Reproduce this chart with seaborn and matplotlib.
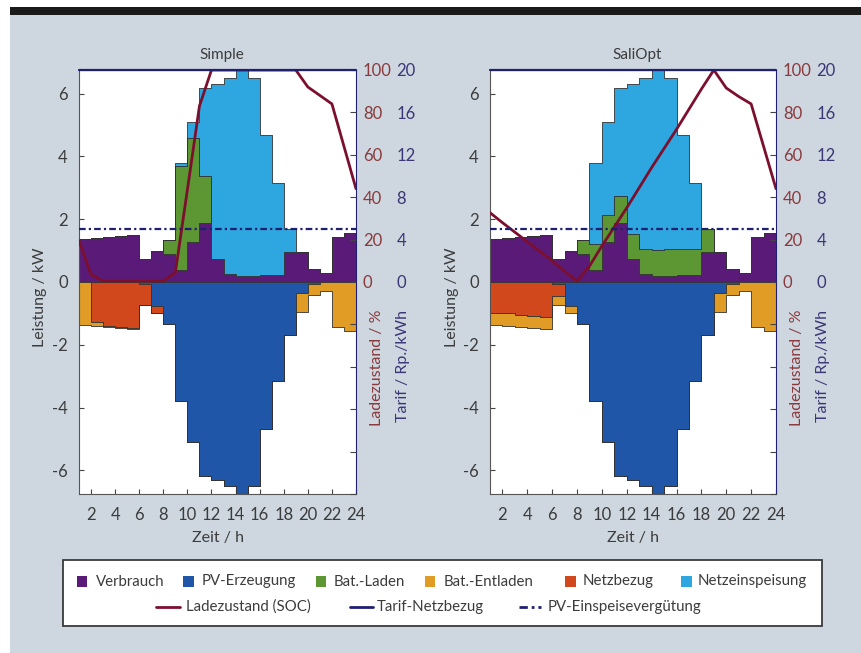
import numpy as np
import matplotlib
matplotlib.use("Agg")
import matplotlib.pyplot as plt
import seaborn as sns
from matplotlib.patches import Rectangle
from matplotlib.lines import Line2D

# ---------------- data (kW per hour, bars from h to h+1) ----------------
hours = list(range(1, 25))          # hour marks 1..24
xticks = list(range(2, 25, 2))

verbrauch = [1.36, 1.40, 1.44, 1.46, 1.50, 0.73, 1.00, 0.90, 0.38, 1.27, 1.89, 0.74,
             0.24, 0.19, 0.19, 0.22, 0.22, 0.96, 0.96, 0.42, 0.30, 1.42, 1.57]
pv_erzeugung = [0.00, 0.00, 0.00, 0.00, 0.00, 0.07, 0.76, 1.34, 3.80, 5.09, 6.17, 6.32,
                6.48, 6.90, 6.50, 4.67, 3.15, 1.68, 0.36, 0.05, 0.00, 0.00, 0.00]

simple_laden = [0, 0, 0, 0, 0, 0, 0, 0.44, 3.31, 3.32, 1.50, 0,
                0, 0, 0, 0, 0, 0, 0, 0, 0, 0, 0]
simple_einspeisung = [0, 0, 0, 0, 0, 0, 0, 0, 0.11, 0.50, 2.78, 5.58,
                      6.24, 6.71, 6.31, 4.45, 2.93, 0.72, 0, 0, 0, 0, 0]
simple_netzbezug = [0, 1.27, 1.41, 1.43, 1.47, 0.66, 0.24, 0, 0, 0, 0, 0,
                    0, 0, 0, 0, 0, 0, 0, 0, 0, 0, 0]
simple_entladen = [1.36, 0.13, 0.03, 0.03, 0.03, 0, 0, 0, 0, 0, 0, 0,
                   0, 0, 0, 0, 0, 0, 0.60, 0.37, 0.30, 1.42, 1.57]
simple_soc = [19.5, 3.5, 0.5, 0.5, 0.5, 0.5, 0.5, 0.5, 4.5, 43.5, 83, 100,
              100, 100, 100, 100, 100, 100, 100, 92, 88, 84, 64, 44]

saliopt_laden = [0, 0, 0, 0, 0, 0, 0, 0.44, 0.82, 0.85, 0.85, 0.80,
                 0.82, 0.82, 0.87, 0.82, 0.82, 0.72, 0, 0, 0, 0, 0]
saliopt_einspeisung = [0, 0, 0, 0, 0, 0, 0, 0, 2.60, 2.97, 3.43, 4.78,
                       5.42, 5.89, 5.44, 3.63, 2.11, 0, 0, 0, 0, 0, 0]
saliopt_netzbezug = [0.98, 1.00, 1.05, 1.08, 1.11, 0.36, 0, 0, 0, 0, 0, 0,
                     0, 0, 0, 0, 0, 0, 0, 0, 0, 0, 0]
saliopt_entladen = [0.38, 0.40, 0.39, 0.38, 0.39, 0.30, 0.24, 0, 0, 0, 0, 0,
                    0, 0, 0, 0, 0, 0, 0.60, 0.37, 0.30, 1.42, 1.57]
saliopt_soc = [32.7, 28, 23.5, 19, 14.5, 10, 5, 0.5, 7.5, 17, 26, 35,
               44.5, 54, 63, 72, 81.5, 91, 100, 91.5, 87.5, 84, 64, 44]

tarif_netzbezug = 20.0      # Rp/kWh
pv_verguetung = 5.0         # Rp/kWh

titles = ["Simple", "SaliOpt"]
legend_patches = ["Verbrauch", "PV-Erzeugung", "Bat.-Laden", "Bat.-Entladen", "Netzbezug", "Netzeinspeisung"]
legend_lines = ["Ladezustand (SOC)", "Tarif-Netzbezug", "PV-Einspeisevergütung"]

# ---------------- style ----------------
C_V = "#5a1b78"
C_PV = "#1f56a8"
C_LAD = "#5c9733"
C_ENT = "#e09c24"
C_BEZ = "#d1481d"
C_EIN = "#2ea6df"
C_SOC = "#7c0f2e"
C_T = "#1f2070"
C_SOC_LAB = "#8a3a3c"
C_T_LAB = "#3b3776"
EDGE = "#333333"
TXT = "#3c3c3c"
BG = "#ced7e0"

sns.set_theme(style="white")
plt.rcParams['font.family'] = ['Lato', 'DejaVu Sans']
plt.rcParams['axes.unicode_minus'] = False

W, H = 861, 653
fig = plt.figure(figsize=(W / 100, H / 100), dpi=100)
fig.patch.set_facecolor("white")


def fx(x):
    return x / W


def fy(y):
    return 1 - y / H


# paper background and top band
fig.add_artist(Rectangle((fx(10), 0), 1 - fx(10), fy(15), transform=fig.transFigure,
                         facecolor=BG, edgecolor="none", zorder=-10))
fig.add_artist(Rectangle((fx(10), fy(15)), 1 - fx(10), fy(7) - fy(15), transform=fig.transFigure,
                         facecolor="#1a1a1a", edgecolor="none", zorder=-9))

edges = np.array(hours, dtype=float)


def steps(v):
    a = np.asarray(v, dtype=float)
    return np.append(a, a[-1])


def panel(rect, title, laden, einsp, bezug, entl, soc, title_x, ylab_x, soc_lab_x, tar_lab_x):
    ax = fig.add_axes(rect)
    ax.set_facecolor("white")
    v1 = steps(verbrauch)
    v2 = v1 + steps(laden)
    v3 = v2 + steps(einsp)
    n1 = -steps(pv_erzeugung)
    n2 = n1 - steps(bezug)
    n3 = n2 - steps(entl)
    kw = dict(step="post", edgecolor=EDGE, linewidth=0.6)
    ax.fill_between(edges, 0, v1, facecolor=C_V, **kw)
    ax.fill_between(edges, v1, v2, facecolor=C_LAD, **kw)
    ax.fill_between(edges, v2, v3, facecolor=C_EIN, **kw)
    ax.fill_between(edges, 0, n1, facecolor=C_PV, **kw)
    ax.fill_between(edges, n1, n2, facecolor=C_BEZ, **kw)
    ax.fill_between(edges, n2, n3, facecolor=C_ENT, **kw)

    ax2 = ax.twinx()
    sns.lineplot(x=hours, y=soc, ax=ax2, color=C_SOC, linewidth=2.0, legend=False)
    ax2.set_ylim(-100, 100)
    t2 = list(range(-100, 101, 20))
    ax2.set_yticks(t2)
    ax2.set_yticklabels([str(t) if t >= 0 else "" for t in t2])
    ax2.tick_params(axis="y", direction="in", length=4, width=0.8, color="#444444",
                    labelsize=12, labelcolor=C_SOC_LAB, pad=5)
    ax2.set_ylabel("")
    ax2.set_xlabel("")

    ax3 = ax.twinx()
    ax3.set_ylim(-20, 20)
    ax3.axhline(pv_verguetung, color=C_T, linewidth=1.6, linestyle=(0, (3, 1.4, 1, 1.4)))
    ax3.axhline(tarif_netzbezug, color=C_T, linewidth=1.6, clip_on=False)
    t3 = list(range(-20, 21, 4))
    ax3.set_yticks(t3)
    ax3.set_yticklabels([str(t) if t >= 0 else "" for t in t3])
    ax3.tick_params(axis="y", direction="in", length=0, labelsize=12, labelcolor=C_T_LAB, pad=29)

    for a in (ax2, ax3):
        for s in a.spines.values():
            s.set_visible(False)
        a.grid(False)

    ax.set_xlim(1, 24)
    ax.set_ylim(-6.75, 6.75)
    ax.set_xticks(xticks)
    ax.set_yticks([-6, -4, -2, 0, 2, 4, 6])
    ax.tick_params(axis="both", direction="in", length=3.5, width=0.8, color="#444444",
                   labelsize=12, labelcolor=TXT)
    ax.tick_params(axis="y", pad=8, left=True)
    ax.tick_params(axis="x", pad=9, bottom=True)
    ax.grid(False)
    for k, s in ax.spines.items():
        s.set_visible(True)
        s.set_linewidth(0.8)
        s.set_color("#555555")
    ax.spines["right"].set_color(C_T)
    ax.spines["top"].set_color(C_T)

    fig.text(fx(title_x), fy(55), title, ha="center", va="center", fontsize=11, color=TXT)
    fig.text(fx(ylab_x), fy(297), "Leistung / kW", rotation=90, ha="center", va="center",
             fontsize=11.5, color=TXT)
    fig.text(fx(title_x - 4), fy(538), "Zeit / h", ha="center", va="center", fontsize=11.5, color=TXT)
    fig.text(fx(soc_lab_x), fy(310), "Ladezustand / %", rotation=90, ha="center", va="top",
             fontsize=11.5, color=C_SOC_LAB)
    fig.text(fx(tar_lab_x), fy(310), "Tarif / Rp./kWh", rotation=90, ha="center", va="top",
             fontsize=11.5, color=C_T_LAB)
    return ax


top, bot = 70, 494
panel([fx(79), fy(bot), fx(356) - fx(79), fy(top) - fy(bot)], titles[0],
      simple_laden, simple_einspeisung, simple_netzbezug, simple_entladen, simple_soc,
      222, 40, 377, 403)
panel([fx(490), fy(bot), fx(776) - fx(490), fy(top) - fy(bot)], titles[1],
      saliopt_laden, saliopt_einspeisung, saliopt_netzbezug, saliopt_entladen, saliopt_soc,
      637, 452, 797, 823)

# ---------------- legend box ----------------
fig.add_artist(Rectangle((fx(62.5), fy(626)), fx(822) - fx(62.5), fy(560) - fy(626),
                         transform=fig.transFigure, facecolor="white", edgecolor="#3a3a3a",
                         linewidth=1.3, zorder=5))
row1_y = 581.5
sq = 10.5
LEG_FS = 10.8
patch_colors = [C_V, C_PV, C_LAD, C_ENT, C_BEZ, C_EIN]
sq_x = [76.7, 183.3, 315.7, 425.0, 565.0, 681.0]
tx_x = [95.5, 201.5, 334.0, 444.0, 583.0, 698.0]
for name, col, sx, tx in zip(legend_patches, patch_colors, sq_x, tx_x):
    fig.add_artist(Rectangle((fx(sx), fy(row1_y + sq / 2)), fx(sq), sq / H,
                             transform=fig.transFigure, facecolor=col, edgecolor="none", zorder=6))
    fig.text(fx(tx), fy(row1_y), name, ha="left", va="center", fontsize=LEG_FS, color=TXT, zorder=7)

row2_y = 607
line_styles = [dict(color=C_SOC, linestyle="-"), dict(color=C_T, linestyle="-"),
               dict(color=C_T, linestyle=(0, (3, 1.4, 1, 1.4)))]
ln_x = [(156, 180), (350, 373), (519, 541)]
ln_tx = [186.5, 376.5, 548.0]
for name, st, (x0, x1), tx in zip(legend_lines, line_styles, ln_x, ln_tx):
    fig.add_artist(Line2D([fx(x0), fx(x1)], [fy(row2_y), fy(row2_y)], transform=fig.transFigure,
                          linewidth=2.0, zorder=6, **st))
    fig.text(fx(tx), fy(row2_y), name, ha="left", va="center", fontsize=LEG_FS, color=TXT, zorder=7)

fig.savefig("out.png", dpi=100, facecolor=fig.get_facecolor())
